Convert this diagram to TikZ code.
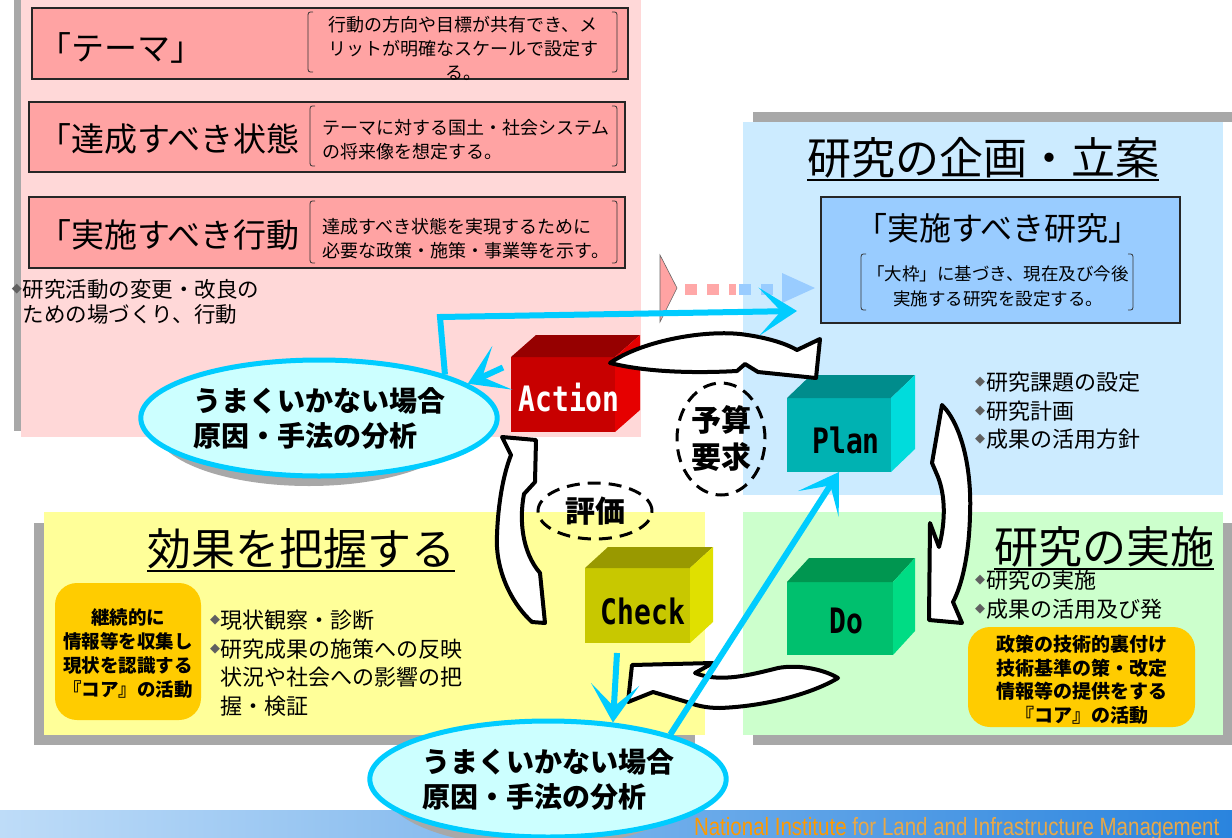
\documentclass[tikz,border=0pt]{standalone}
\usepackage{fontspec}
\setmainfont{Noto Sans CJK JP}
\newfontfamily\libsans{Liberation Sans}
\newfontfamily\dvmono{DejaVu Sans Mono}
\newfontfamily\dvsans{DejaVu Sans}
\usetikzlibrary{arrows.meta,shapes.geometric,calc}
\definecolor{pinkbg}{HTML}{FFD8D8}
\definecolor{pinkbox}{HTML}{FFA3A3}
\definecolor{bluebg}{HTML}{CCEBFF}
\definecolor{bluebox}{HTML}{99CCFF}
\definecolor{yelbg}{HTML}{FFFF99}
\definecolor{grnbg}{HTML}{CCFFCC}
\definecolor{orng}{HTML}{FFCC00}
\definecolor{cyanl}{HTML}{00CCFF}
\definecolor{ellfill}{HTML}{CCFFFF}
\definecolor{shad}{HTML}{A8A8A8}
\definecolor{bulcol}{HTML}{606060}
\definecolor{actF}{HTML}{C80000}\definecolor{actT}{HTML}{960000}\definecolor{actS}{HTML}{E60000}
\definecolor{plnF}{HTML}{00B2B2}\definecolor{plnT}{HTML}{008C8C}\definecolor{plnS}{HTML}{00DCDC}
\definecolor{chkF}{HTML}{C8C800}\definecolor{chkT}{HTML}{999900}\definecolor{chkS}{HTML}{E0E000}
\definecolor{doF}{HTML}{00C06E}\definecolor{doT}{HTML}{009650}\definecolor{doS}{HTML}{00DC84}
\definecolor{footL}{HTML}{BEDCF8}\definecolor{footR}{HTML}{2A84DE}
\definecolor{footA}{HTML}{FF9900}\definecolor{footB}{HTML}{E8A848}
\definecolor{pinkdot}{HTML}{FFA8A8}
\newcommand\bul{\raisebox{0.22em}{\dvsans\fontsize{13}{13}\selectfont\textcolor{bulcol}{◆}}\hspace{1pt}}
\newcommand\nobul{\phantom{\bul}}
\newcommand\fs[2]{\fontsize{#1}{#2}\selectfont}
\newcommand\brkpair[4]{%
 \draw[brk] (#1+5,#3) .. controls (#1,#3) .. (#1,#3+6) -- (#1,#4-6) .. controls (#1,#4) .. (#1+5,#4);
 \draw[brk] (#2-5,#3) .. controls (#2,#3) .. (#2,#3+6) -- (#2,#4-6) .. controls (#2,#4) .. (#2-5,#4);}
\begin{document}
\begin{tikzpicture}[x=1pt,y=-1pt,
  t/.style={inner sep=0pt,outer sep=0pt},
  bigbox/.style={draw=black!85,line width=1.2pt,fill=pinkbox},
  brk/.style={line width=0.8pt,draw=black!80},
  cyanarr/.style={draw=cyanl,line width=6pt,-{Stealth[length=38pt,width=48pt,inset=22pt]}},
  whitearr/.style={fill=white,draw=black,line width=4pt,line join=round},
  dashell/.style={ellipse,draw=black,line width=3pt,dash pattern=on 13pt off 8pt,inner sep=0pt,font=\fs{30}{37}\bfseries,align=center},
  cloud/.style={ellipse,draw=cyanl,line width=5pt,fill=ellfill,inner sep=0pt,minimum width=308pt,minimum height=116pt,font=\fs{28}{35}\bfseries,align=left},
  cubelbl/.style={t,font=\dvmono\bfseries\fontsize{28}{28}\selectfont},
  face/.style={rectangle,inner sep=0pt,outer sep=0pt,draw=none},
  ]
\useasboundingbox (0,0) rectangle (1232,838);
\fill[white] (0,0) rectangle (1232,838);

% ---------- panels ----------
\fill[shad] (14,-10) rectangle (634,431);
\fill[pinkbg] (21,0) rectangle (641,437);
\fill[shad] (753,112) rectangle (1233,122);
\fill[bluebg] (743,122) rectangle (1223,495);
\fill[shad] (34,523) rectangle (695,745);
\fill[yelbg] (44,512) rectangle (705,735);
\fill[shad] (753,523) rectangle (1233,745);
\fill[grnbg] (743,512) rectangle (1223,735);

% ---------- pink boxes ----------
\node[bigbox,minimum width=596pt,minimum height=71pt,inner sep=0pt] (box1) at (330,43.5) {};
\node[bigbox,minimum width=596pt,minimum height=70pt,inner sep=0pt] (box2) at (327,137) {};
\node[bigbox,minimum width=596pt,minimum height=71pt,inner sep=0pt] (box3) at (327,232.5) {};
\node[t,anchor=west,font=\fs{33}{33}] (theme) at (38,48) {「テーマ」};
\node[t,anchor=west,font=\fs{33}{33}] (state) at (38,139) {「達成すべき状態};
\node[t,anchor=west,font=\fs{33}{33}] (act) at (38,235) {「実施すべき行動};
\node[t,font=\fs{18}{24},align=center] (d1) at (463,48) {行動の方向や目標が共有でき、メ\\リットが明確なスケールで設定す\\る。};
\node[t,font=\fs{18}{24},align=left] (d2) at (466,140) {テーマに対する国土・社会システム\\の将来像を想定する。};
\node[t,font=\fs{18}{24},align=left] (d3) at (466,239) {達成すべき状態を実現するために\\必要な政策・施策・事業等を示す。};
\brkpair{308}{617}{12}{72}
\brkpair{310}{617}{106}{166}
\brkpair{310}{617}{201}{263}
\node[t,anchor=north west,font=\fs{21.5}{25.5},align=left] (lb) at (12,279) {\bul 研究活動の変更・改良の\\\nobul ための場づくり、行動};

% ---------- blue panel ----------
\node[t,font=\fs{44}{44}] (plantitle) at (983,158) {研究の企画・立案};
\draw[line width=2pt] ([yshift=-2pt]plantitle.south west) -- ([yshift=-2pt]plantitle.south east);
\node[draw=black!85,line width=1.2pt,fill=bluebox,minimum width=359pt,minimum height=126pt,inner sep=0pt] (research) at (1000.5,260) {};
\node[t,font=\fs{32}{32}] (rt) at (998,228) {「実施すべき研究」};
\node[t,font=\fs{17.5}{25},align=center] (rd) at (998,286) {「大枠」に基づき、現在及び今後\\実施する研究を設定する。};
\brkpair{861}{1133}{254}{310}
\node[t,anchor=north west,font=\fs{22}{28.5},align=left] (pb) at (975,372) {\bul 研究課題の設定\\\bul 研究計画\\\bul 成果の活用方針};

% ---------- yellow panel ----------
\node[t,font=\fs{44}{44}] (ctitle) at (301,549) {効果を把握する};
\draw[line width=2pt] ([yshift=-2pt]ctitle.south west) -- ([yshift=-2pt]ctitle.south east);
\node[fill=orng,rounded corners=22pt,minimum width=146pt,minimum height=137pt,inner sep=0pt] (core1) at (128,651.5) {};
\node[t,font=\fs{18.5}{24}\bfseries,align=center] (core1t) at (128,654) {継続的に\\情報等を収集し\\現状を認識する\\『コア』の活動};
\node[t,anchor=north west,font=\fs{22}{28.5},align=left] (cb) at (210,610) {\bul 現状観察・診断\\\bul 研究成果の施策への反映\\\nobul 状況や社会への影響の把\\\nobul 握・検証};

% ---------- green panel ----------
\node[t,font=\fs{44}{44}] (dtitle) at (1104,547) {研究の実施};
\draw[line width=2pt] ([yshift=-2pt]dtitle.south west) -- ([yshift=-2pt]dtitle.south east);
\node[t,anchor=north west,font=\fs{22}{29},align=left] (db) at (975,570) {\bul 研究の実施\\\bul 成果の活用及び発};
\node[fill=orng,rounded corners=22pt,minimum width=227pt,minimum height=100pt,inner sep=0pt] (core2) at (1081.5,677) {};
\node[t,font=\fs{19}{23.5}\bfseries,align=center] (core2t) at (1082,680) {政策の技術的裏付け\\技術基準の策・改定\\情報等の提供をする\\『コア』の活動};

% ---------- footer ----------
\shade[left color=footL,right color=footR] (0,810) rectangle (1232,838);
\node[t,anchor=base west,font=\libsans\fontsize{25}{25}\selectfont] (foot) at (694,835) {\scalebox{0.82}[1]{\textcolor{footA}{National Institute} \textcolor{footB}{for Land and Infrastructure Management}}};

% ---------- dotted arrow ----------
\filldraw[fill=pinkbox,draw=black!60,line width=0.6pt] (660,255) -- (677,288) -- (660,322) -- cycle;
\fill[pinkdot] (685,284) rectangle (697,295);
\fill[pinkdot] (707,284) rectangle (719,295);
\fill[pinkdot] (729,284) rectangle (736,295);
\fill[bluebox] (739,284) rectangle (751,295);
\fill[bluebox] (761,284) rectangle (773,295);
\fill[bluebox] (782,273) -- (815,288) -- (782,303) -- cycle;

% ---------- cubes ----------
\node[face,fill=actF,minimum width=104pt,minimum height=75pt] (action) at (563,394.5) {};
\fill[actT] (action.north west) -- ++(25,-22) -- ++(104,0) -- (action.north east) -- cycle;
\fill[actS] (action.north east) -- ++(25,-22) -- ++(0,75) -- (action.south east) -- cycle;
\node[cubelbl,text=white] (actionl) at (569,398) {\scalebox{1}[1.25]{Action}};

\node[face,fill=plnF,minimum width=104pt,minimum height=74pt] (plan) at (839,435) {};
\fill[plnT] (plan.north west) -- ++(24,-23) -- ++(104,0) -- (plan.north east) -- cycle;
\fill[plnS] (plan.north east) -- ++(24,-23) -- ++(0,74) -- (plan.south east) -- cycle;
\node[cubelbl] (planl) at (846,440) {\scalebox{1}[1.25]{Plan}};

\node[face,fill=chkF,minimum width=105pt,minimum height=75pt] (check) at (637.5,605.5) {};
\fill[chkT] (check.north west) -- ++(23,-21) -- ++(105,0) -- (check.north east) -- cycle;
\fill[chkS] (check.north east) -- ++(23,-21) -- ++(0,75) -- (check.south east) -- cycle;
\node[cubelbl] (checkl) at (643,611) {\scalebox{1}[1.25]{Check}};

\node[face,fill=doF,minimum width=106pt,minimum height=73pt] (do) at (840,618.5) {};
\fill[doT] (do.north west) -- ++(22,-24) -- ++(106,0) -- (do.north east) -- cycle;
\fill[doS] (do.north east) -- ++(22,-24) -- ++(0,73) -- (do.south east) -- cycle;
\node[cubelbl] (dol) at (846,621) {\scalebox{1}[1.25]{Do}};

% ---------- white curved arrows ----------
\filldraw[whitearr] (610,363) .. controls (640,342) and (700,330) .. (740,334) .. controls (765,337) and (785,343) .. (797,350) -- (820,339) -- (816,378) -- (758,372) -- (745,364) -- (737,371) .. controls (700,373) and (650,373) .. (610,363) -- cycle;
\filldraw[whitearr] (942,405) .. controls (962,425) and (972,470) .. (970,515) .. controls (969,555) and (962,585) .. (953,602) -- (962,623) -- (929,620) -- (930,523) -- (939,547) .. controls (946,520) and (945,495) .. (938,477) -- (932,463) -- cycle;
\filldraw[whitearr] (632,665) -- (713,663) -- (695,673) .. controls (720,683) and (750,675) .. (778,668) .. controls (800,664) and (825,670) .. (838,678) .. controls (815,692) and (770,706) .. (720,708) .. controls (705,708) and (695,705) .. (687,702) -- (653,692) -- (628,702) -- cycle;
\filldraw[whitearr] (502,437) -- (536,440) -- (535,482) -- (524,494) .. controls (519,520) and (522,552) .. (540,573) -- (545,623) -- (532,622) .. controls (508,600) and (495,565) .. (497,535) .. controls (498,505) and (503,475) .. (511,455) -- cycle;

% ---------- dashed labels ----------
\node[dashell,minimum width=88pt,minimum height=112pt] (budget) at (721,439) {予算\\要求};
\node[dashell,minimum width=114pt,minimum height=56pt] (eval) at (595,511) {評価};

% ---------- ellipses ----------
\fill[shad] (309,428) ellipse[x radius=154,y radius=58];
\node[cloud] (ell1) at (319,418) {うまくいかない場合\\原因・手法の分析};
\fill[shad] (538,789) ellipse[x radius=154,y radius=58];
\node[cloud] (ell2) at (548,779) {うまくいかない場合\\原因・手法の分析};

% ---------- cyan arrows ----------
\coordinate (tipA) at (797,311);
\coordinate (cornerA) at (440,317);
\draw[cyanarr] (ell1.19) -- (cornerA) -- (tipA);
\draw[cyanarr] ($(action.west)+(-8,-27)$) -- (ell1.13);
\draw[cyanarr] ($(check.south west)+(32,10)$) -- (ell2.41);
\draw[cyanarr] (ell2.20) -- (plan.south);
\end{tikzpicture}
\end{document}
